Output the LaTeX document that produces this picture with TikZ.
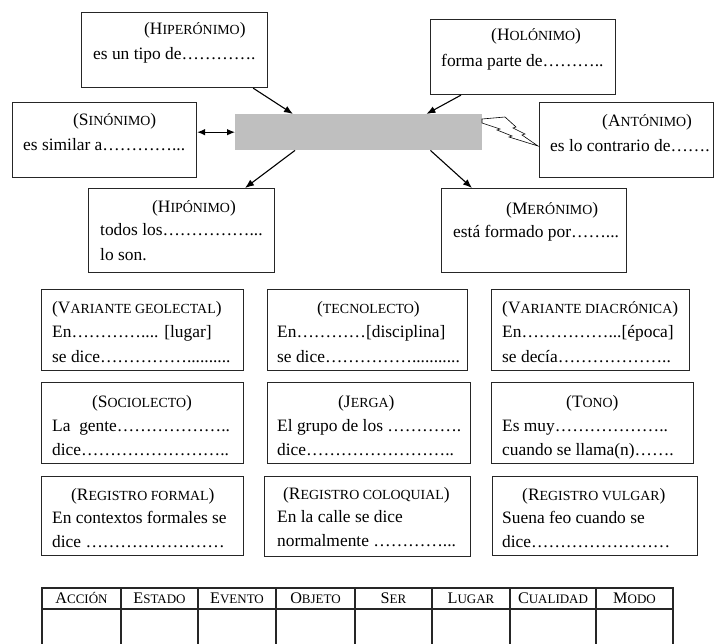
\documentclass[tikz,border=0pt]{standalone}
\usepackage{fontspec}
\setmainfont{Liberation Serif}
\usetikzlibrary{arrows.meta}
\newcommand{\smc}[1]{{\fontsize{13.9}{14}\selectfont #1}}
\newcommand{\tsmc}[1]{{\fontsize{13}{13}\selectfont #1}}
\tikzset{
  box/.style={draw=black!85, line width=1.1pt, rectangle, inner sep=0pt, anchor=north west},
  txt/.style={inner sep=0pt, anchor=base west, font=\fontsize{17.4}{20}\selectfont},
  hd/.style={inner sep=0pt, anchor=base, font=\fontsize{16.2}{18}\selectfont},
  arr/.style={-{Latex[length=9pt,width=7pt]}, line width=1.1pt},
  darr/.style={{Latex[length=8pt,width=6.5pt]}-{Latex[length=8pt,width=6.5pt]}, line width=1.1pt},
  grid/.style={draw=black!85, line width=1.1pt}
}
\begin{document}
\begin{tikzpicture}[x=1pt,y=-1pt]
\useasboundingbox (0,0) rectangle (714,644);
% central gray rectangle
\node[fill=black!25, minimum width=247pt, minimum height=36pt, inner sep=0pt, anchor=north west] (gray) at (235,114) {};
% upper boxes
\node[box, minimum width=186pt, minimum height=75pt] (hiper) at (81,12) {};
\node[txt] (hiperT) at (144,35) {(H\smc{IPERÓNIMO})};
\node[txt] (hiperA) at (93,60) {es un tipo de………….};

\node[box, minimum width=185pt, minimum height=75pt] (holo) at (430,19) {};
\node[txt] (holoT) at (491,41) {(H\smc{OLÓNIMO})};
\node[txt] (holoA) at (441,67) {forma parte de………..};

\node[box, minimum width=184pt, minimum height=75pt] (sino) at (12,102) {};
\node[txt] (sinoT) at (73,126) {(S\smc{INÓNIMO})};
\node[txt] (sinoA) at (23,151) {es similar a…………...};

\node[box, minimum width=174pt, minimum height=75pt] (anto) at (539,102) {};
\node[txt] (antoT) at (602,127) {(A\smc{NTÓNIMO})};
\node[txt] (antoA) at (550,152) {es lo contrario de…….};

\node[box, minimum width=186pt, minimum height=84pt] (hipo) at (88,188) {};
\node[txt] (hipoT) at (152,213) {(H\smc{IPÓNIMO})};
\node[txt] (hipoA) at (100,236) {todos los……………...};
\node[txt] (hipoB) at (100,260) {lo son.};

\node[box, minimum width=185pt, minimum height=84pt] (mero) at (441,188) {};
\node[txt] (meroT) at (506,215) {(M\smc{ERÓNIMO})};
\node[txt] (meroA) at (453,238) {está formado por……...};

% connectors
\draw[arr] ([xshift=-15pt]hiper.south east) -- ([xshift=58pt]gray.north west);
\draw[arr] ([xshift=31pt]holo.south west) -- ([xshift=-56pt]gray.north east);
\draw[arr] ([xshift=60pt]gray.south west) -- ([xshift=157pt]hipo.north west);
\draw[arr] ([xshift=-52pt]gray.south east) -- ([xshift=31pt]mero.north west);
\draw[darr] (sino.east |- gray.west) -- (gray.west);
% lightning bolt
\draw[line width=0.6pt, fill=white] (482,119) -- (505,117) -- (516,127) -- (513,128) -- (525,134) -- (522,135) -- (538,146) -- (509,137) -- (512,136) -- (497,130) -- (500,129) -- (482,123) -- cycle;

% grid of boxes, row 1
\node[box, minimum width=202pt, minimum height=81pt] (geo) at (41,289) {};
\node[txt] (geoT) at (52,313) {(V\smc{ARIANTE GEOLECTAL})};
\node[txt] (geoA) at (52,337) {En………….... [lugar]};
\node[txt] (geoB) at (52,362) {se dice……………..........};

\node[box, minimum width=200pt, minimum height=81pt] (tec) at (267,289) {};
\node[txt] (tecT) at (317,313) {(\smc{TECNOLECTO})};
\node[txt] (tecA) at (277,337) {En…………[disciplina]};
\node[txt] (tecB) at (277,362) {se dice……………...........};

\node[box, minimum width=198pt, minimum height=81pt] (dia) at (491,289) {};
\node[txt] (diaT) at (502,313) {(V\smc{ARIANTE DIACRÓNICA})};
\node[txt] (diaA) at (502,337) {En……………...[época]};
\node[txt] (diaB) at (502,362) {se decía………………..};

% row 2
\node[box, minimum width=202pt, minimum height=81pt] (soc) at (41,382) {};
\node[txt] (socT) at (92,407) {(S\smc{OCIOLECTO})};
\node[txt] (socA) at (52,431) {La\ \ gente………………..};
\node[txt] (socB) at (52,455) {dice……………………..};

\node[box, minimum width=203pt, minimum height=81pt] (jer) at (267,382) {};
\node[txt] (jerT) at (338,407) {(J\smc{ERGA})};
\node[txt] (jerA) at (277,431) {El grupo de los ………….};
\node[txt] (jerB) at (277,455) {dice……………………..};

\node[box, minimum width=202pt, minimum height=81pt] (tono) at (491,382) {};
\node[txt] (tonoT) at (566,407) {(T\smc{ONO})};
\node[txt] (tonoA) at (502,431) {Es muy………………..};
\node[txt] (tonoB) at (502,455) {cuando se llama(n)…….};

% row 3
\node[box, minimum width=202pt, minimum height=79pt] (form) at (41,476) {};
\node[txt] (formT) at (71,500) {(R\smc{EGISTRO FORMAL})};
\node[txt] (formA) at (52,523) {En contextos formales se};
\node[txt] (formB) at (52,547) {dice ……………………};

\node[box, minimum width=206pt, minimum height=80pt] (colo) at (264,476) {};
\node[txt] (coloT) at (283,499) {(R\smc{EGISTRO COLOQUIAL})};
\node[txt] (coloA) at (277,522) {En la calle se dice};
\node[txt] (coloB) at (277,546) {normalmente …………...};

\node[box, minimum width=205pt, minimum height=79pt] (vulg) at (492,476) {};
\node[txt] (vulgT) at (522,500) {(R\smc{EGISTRO VULGAR})};
\node[txt] (vulgA) at (502,523) {Suena feo cuando se};
\node[txt] (vulgB) at (502,547) {dice……………………};

% table
\draw[grid] (42,644) -- (42,588) -- (673,588) -- (673,644);
\draw[grid] (42,609) -- (673,609);
\foreach \cx in {121,198,276,355,432,510,596} {
  \draw[grid] (\cx,588) -- (\cx,644);
}
\node[hd] (h1) at (81.5,603) {A\tsmc{CCIÓN}};
\node[hd] (h2) at (159.5,603) {E\tsmc{STADO}};
\node[hd] (h3) at (237,603) {E\tsmc{VENTO}};
\node[hd] (h4) at (315.5,603) {O\tsmc{BJETO}};
\node[hd] (h5) at (393.5,603) {S\tsmc{ER}};
\node[hd] (h6) at (471,603) {L\tsmc{UGAR}};
\node[hd] (h7) at (553,603) {C\tsmc{UALIDAD}};
\node[hd] (h8) at (634.5,603) {M\tsmc{ODO}};
\end{tikzpicture}
\end{document}
